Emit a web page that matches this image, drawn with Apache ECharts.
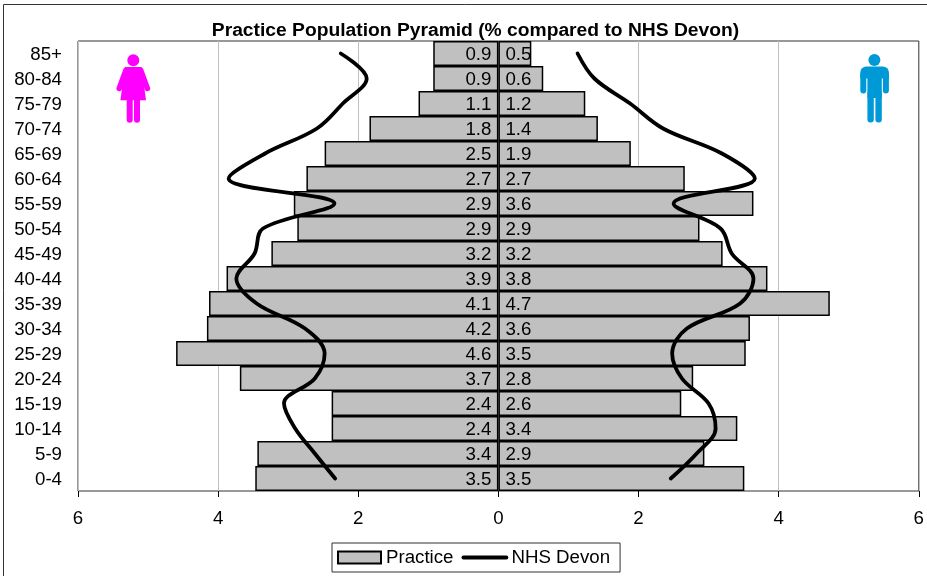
<!DOCTYPE html>
<html>
<head>
<meta charset="utf-8">
<style>html,body{margin:0;padding:0;background:#fff}#c{width:927px;height:576px}</style>
<script src="https://cdn.jsdelivr.net/npm/echarts@6/dist/echarts.min.js"></script>
</head>
<body>
<div id="c"></div>
<script>
const ageBands = ['85+','80-84','75-79','70-74','65-69','60-64','55-59','50-54','45-49','40-44','35-39','30-34','25-29','20-24','15-19','10-14','5-9','0-4'];
const practiceFemale = [0.93,0.93,1.14,1.84,2.48,2.74,2.92,2.87,3.24,3.88,4.13,4.16,4.6,3.69,2.38,2.38,3.44,3.47];
const practiceMale = [0.47,0.64,1.24,1.42,1.89,2.66,3.64,2.87,3.2,3.84,4.73,3.59,3.53,2.78,2.61,3.41,2.94,3.51];
const devonFemale = [2.25,1.88,2.22,2.59,3.33,3.85,2.34,3.36,3.48,3.74,3.45,2.76,2.48,2.62,3.06,2.9,2.62,2.33];
const devonMale = [1.13,1.37,1.88,2.35,3.19,3.66,2.5,3.17,3.33,3.64,3.45,2.69,2.48,2.62,3.0,3.1,2.83,2.46];

const FONT = '"Liberation Sans", Arial, sans-serif';
const FS = 18.7;
const barStyle = { color:'#c0c0c0', borderColor:'#000', borderWidth:1.5 };
const fmt = p => Math.abs(p.value).toFixed(1);
const barSeries = (data, pos) => ({
  name:'Practice', type:'bar', data, barWidth:'100%', barGap:'-100%',
  itemStyle:barStyle,
  label:{ show:true, position:pos, distance:7, offset:[0,1], formatter:fmt, color:'#000', fontFamily:FONT, fontSize:FS }
});
const lineSeries = data => ({
  name:'NHS Devon', type:'line', data, smooth:0.36, showSymbol:false, symbol:'none',
  lineStyle:{ color:'#000', width:3.8, cap:'round', join:'round' }, itemStyle:{color:'#000', opacity:0}, z:3
});
const ink = (fill) => ({ style:{ fill } });
const stroke = (stroke) => ({ style:{ stroke, lineWidth:5.5, lineCap:'round', fill:'none' } });
const PINK='#ff00ff', BLUE='#0099d8';

const option = {
  animation:false,
  backgroundColor:'#fff',
  title:{ text:'Practice Population Pyramid (% compared to NHS Devon)', left:470.5, top:16, textAlign:'center',
    textStyle:{ fontFamily:FONT, fontSize:19.25, fontWeight:'bold', color:'#000' } },
  grid:{ left:78, top:41, width:841, height:450, show:true, borderColor:'#333', borderWidth:1, backgroundColor:'transparent' },
  xAxis:{ type:'value', min:-6, max:6, interval:2,
    axisLine:{ show:false }, axisTick:{ show:true, length:6, lineStyle:{ color:'#000' } },
    splitLine:{ show:true, lineStyle:{ color:'#c0c0c0', width:1 } },
    axisLabel:{ margin:18, color:'#000', fontFamily:FONT, fontSize:FS, formatter:v => String(Math.abs(v)) } },
  yAxis:{ type:'category', data:ageBands, inverse:true, position:'left',
    axisLine:{ show:false, onZero:false }, axisTick:{ show:false },
    axisLabel:{ margin:16, color:'#000', fontFamily:FONT, fontSize:FS, interval:0,
      formatter:'{a|{value}}', rich:{ a:{ padding:[2,0,0,0], color:'#000', fontFamily:FONT, fontSize:FS } } } },
  legend:{ data:[{name:'Practice', icon:'rect'},'NHS Devon'], left:332, top:543, orient:'horizontal',
    padding:[5,10,5,5], itemGap:8, itemWidth:43, itemHeight:12,
    borderColor:'#333', borderWidth:1, backgroundColor:'#fff',
    lineStyle:{ width:3.8 },
    textStyle:{ fontFamily:FONT, fontSize:FS, color:'#000' } },
  series:[
    barSeries(practiceFemale.map(v => -v), 'insideRight'),
    barSeries(practiceMale, 'insideLeft'),
    lineSeries(devonFemale.map(v => -v)),
    lineSeries(devonMale)
  ],
  graphic:{ elements:[
    { type:'rect', silent:true, shape:{ x:3.5, y:4.5, width:1200, height:1200 }, style:{ fill:'none', stroke:'#333', lineWidth:1 } },
    // female icon
    { type:'circle', silent:true, shape:{ cx:133.3, cy:60.3, r:6 }, ...ink(PINK) },
    { type:'polygon', silent:true, shape:{ points:[[125,67],[141.6,67],[146,100.3],[120.4,100.3]] }, ...ink(PINK) },
    { type:'polyline', silent:true, shape:{ points:[[126,70],[119.2,88.5]] }, ...stroke(PINK) },
    { type:'polyline', silent:true, shape:{ points:[[140.6,70],[147.4,88.5]] }, ...stroke(PINK) },
    { type:'rect', silent:true, shape:{ x:126.7, y:96, width:6, height:26.8, r:3 }, ...ink(PINK) },
    { type:'rect', silent:true, shape:{ x:134, y:96, width:6, height:26.8, r:3 }, ...ink(PINK) },
    // male icon
    { type:'circle', silent:true, shape:{ cx:874.4, cy:60, r:6 }, ...ink(BLUE) },
    { type:'rect', silent:true, shape:{ x:860.3, y:66.5, width:28.6, height:12, r:[6,6,0,0] }, ...ink(BLUE) },
    { type:'rect', silent:true, shape:{ x:860.3, y:72, width:6, height:21.5, r:3 }, ...ink(BLUE) },
    { type:'rect', silent:true, shape:{ x:882.9, y:72, width:6, height:21.5, r:3 }, ...ink(BLUE) },
    { type:'rect', silent:true, shape:{ x:867.4, y:70, width:14.4, height:28 }, ...ink(BLUE) },
    { type:'rect', silent:true, shape:{ x:867.4, y:90, width:6.4, height:32.5, r:3 }, ...ink(BLUE) },
    { type:'rect', silent:true, shape:{ x:875.4, y:90, width:6.4, height:32.5, r:3 }, ...ink(BLUE) }
  ]}
};
echarts.init(document.getElementById('c'), null, { renderer:'canvas' }).setOption(option);
</script>
</body>
</html>
